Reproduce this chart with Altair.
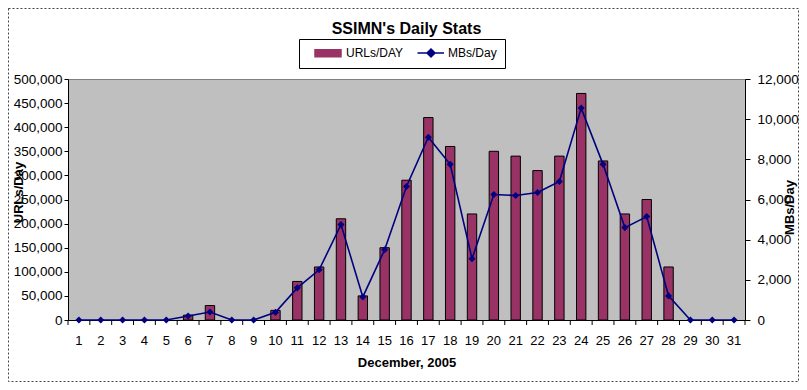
import altair as alt
import pandas as pd

# ---- data ----
days = list(range(1, 32))
urls_per_day = [0, 0, 0, 0, 0, 10000, 30000, 0, 0, 20000,
                80000, 110000, 210000, 50000, 150000, 290000, 420000, 360000, 220000, 350000,
                340000, 310000, 340000, 470000, 330000, 220000, 250000, 110000, 0, 0, 0]
mbs_per_day = [0, 0, 0, 0, 0, 200, 400, 0, 0, 380,
               1600, 2500, 4750, 1150, 3500, 6650, 9100, 7750, 3050, 6250,
               6200, 6350, 6900, 10550, 7750, 4600, 5150, 1200, 0, 0, 0]
series_names = ["URLs/DAY", "MBs/Day"]
series_colors = ["#993366", "#000080"]
left_ticks = list(range(0, 500001, 50000))
right_ticks = list(range(0, 12001, 2000))

df = pd.DataFrame({"day": days, "urls": urls_per_day, "mbs": mbs_per_day})

W, H = 677, 241
STEP = W / len(days)
FONT = "Liberation Sans"
PAD = {"left": 60, "top": 71, "right": 54, "bottom": 62}

xscale = alt.Scale(paddingInner=0.57, paddingOuter=0.285)
x_axis = alt.Axis(title="December, 2005", labelAngle=0, ticks=False, labelPadding=14,
                  titleFontWeight="bold", titleFontSize=13, titleY=42, titleBaseline="middle")

SHAPE_EXPR = ("datum.value === 'URLs/DAY' ? 'M0.4,-0.7H5.6V0.7H0.4Z' : "
              "'M0.5,0H5.8M3.2,-0.8L4,0L3.2,0.8L2.4,0Z'")
FILL_EXPR = "datum.value === 'URLs/DAY' ? '#993366' : '#000080'"
STROKE_EXPR = "datum.value === 'URLs/DAY' ? '#000000' : '#000080'"

color = alt.Color(
    "series:N",
    scale=alt.Scale(domain=series_names, range=series_colors),
    legend=alt.Legend(
        title=None, orient="none", legendX=231, legendY=-40, direction="horizontal",
        labelFont=FONT, labelFontSize=12, labelColor="black", labelOffset=27,
        columnPadding=5, padding=8, strokeColor="black", fillColor="white",
        symbolSize=100, symbolOpacity=1, symbolStrokeWidth=1.5,
        symbolType={"expr": SHAPE_EXPR},
        symbolFillColor={"expr": FILL_EXPR},
        symbolStrokeColor={"expr": STROKE_EXPR},
    ),
)

base = alt.Chart(df)

bars = base.transform_filter("datum.urls > 0").transform_calculate(
    series="'URLs/DAY'"
).mark_bar(stroke="black", strokeWidth=1, opacity=1).encode(
    x=alt.X("day:O", scale=xscale, axis=x_axis),
    y=alt.Y("urls:Q", scale=alt.Scale(domain=[0, 500000], nice=False),
            axis=alt.Axis(orient="left", values=left_ticks, format=",.0f", title="URLs/Day",
                          tickSize=4, labelPadding=2, labelFontSize=13.5, titleX=-50, titleY=113,
                          titleAngle=-90, titleAlign="center", titleBaseline="middle",
                          titleFontWeight="bold", titleFontSize=13)),
    color=color,
)

line = base.transform_calculate(series="'MBs/Day'").mark_line(
    strokeWidth=1.6,
    point=alt.OverlayMarkDef(shape="diamond", size=50, filled=True, color="#000080"),
).encode(
    x=alt.X("day:O", scale=xscale, axis=x_axis),
    y=alt.Y("mbs:Q", scale=alt.Scale(domain=[0, 12000], nice=False),
            axis=alt.Axis(orient="right", values=right_ticks, format=",.0f", title="MBs/Day",
                          tickSize=5, labelPadding=7, labelFontSize=13.5, titleX=44, titleY=128,
                          titleAngle=-90, titleAlign="center", titleBaseline="middle",
                          titleFontWeight="bold", titleFontSize=13)),
    color=alt.Color("series:N", scale=alt.Scale(domain=series_names, range=series_colors),
                    legend=None),
)

xticks = base.mark_rule(color="black", xOffset=-STEP / 2).encode(
    x=alt.X("day:O", scale=xscale, axis=x_axis),
    y=alt.value(H), y2=alt.value(H + 5),
)
xticks_end = base.transform_filter("datum.day == 31").mark_rule(
    color="black", xOffset=STEP / 2
).encode(
    x=alt.X("day:O", scale=xscale, axis=x_axis),
    y=alt.value(H), y2=alt.value(H + 5),
)

border = alt.Chart(pd.DataFrame({"a": [0]})).mark_rect(
    filled=False, stroke="#444", strokeDash=[2, 2], strokeWidth=1
).encode(
    x=alt.value(-PAD["left"] + 0.5), x2=alt.value(W + PAD["right"] - 0.5),
    y=alt.value(-PAD["top"] + 0.5), y2=alt.value(H + PAD["bottom"] - 0.5),
)

chart = alt.layer(bars, line, xticks, xticks_end, border).resolve_scale(
    y="independent"
).properties(
    width=W, height=H,
    autosize=alt.AutoSizeParams(type="none"),
    padding=PAD,
    background="white",
    title=alt.TitleParams("SSIMN's Daily Stats", fontSize=16, fontWeight="bold", font=FONT,
                          anchor="middle", color="black", offset=-29),
).configure_view(
    fill="#bfbfbf", stroke="#808080", strokeWidth=1
).configure_axis(
    labelFont=FONT, labelFontSize=13, labelColor="black", titleFont=FONT, titleColor="black",
    domainColor="black", tickColor="black", grid=False,
)

chart.save("out.html", embed_options={"renderer": "svg", "actions": False})
